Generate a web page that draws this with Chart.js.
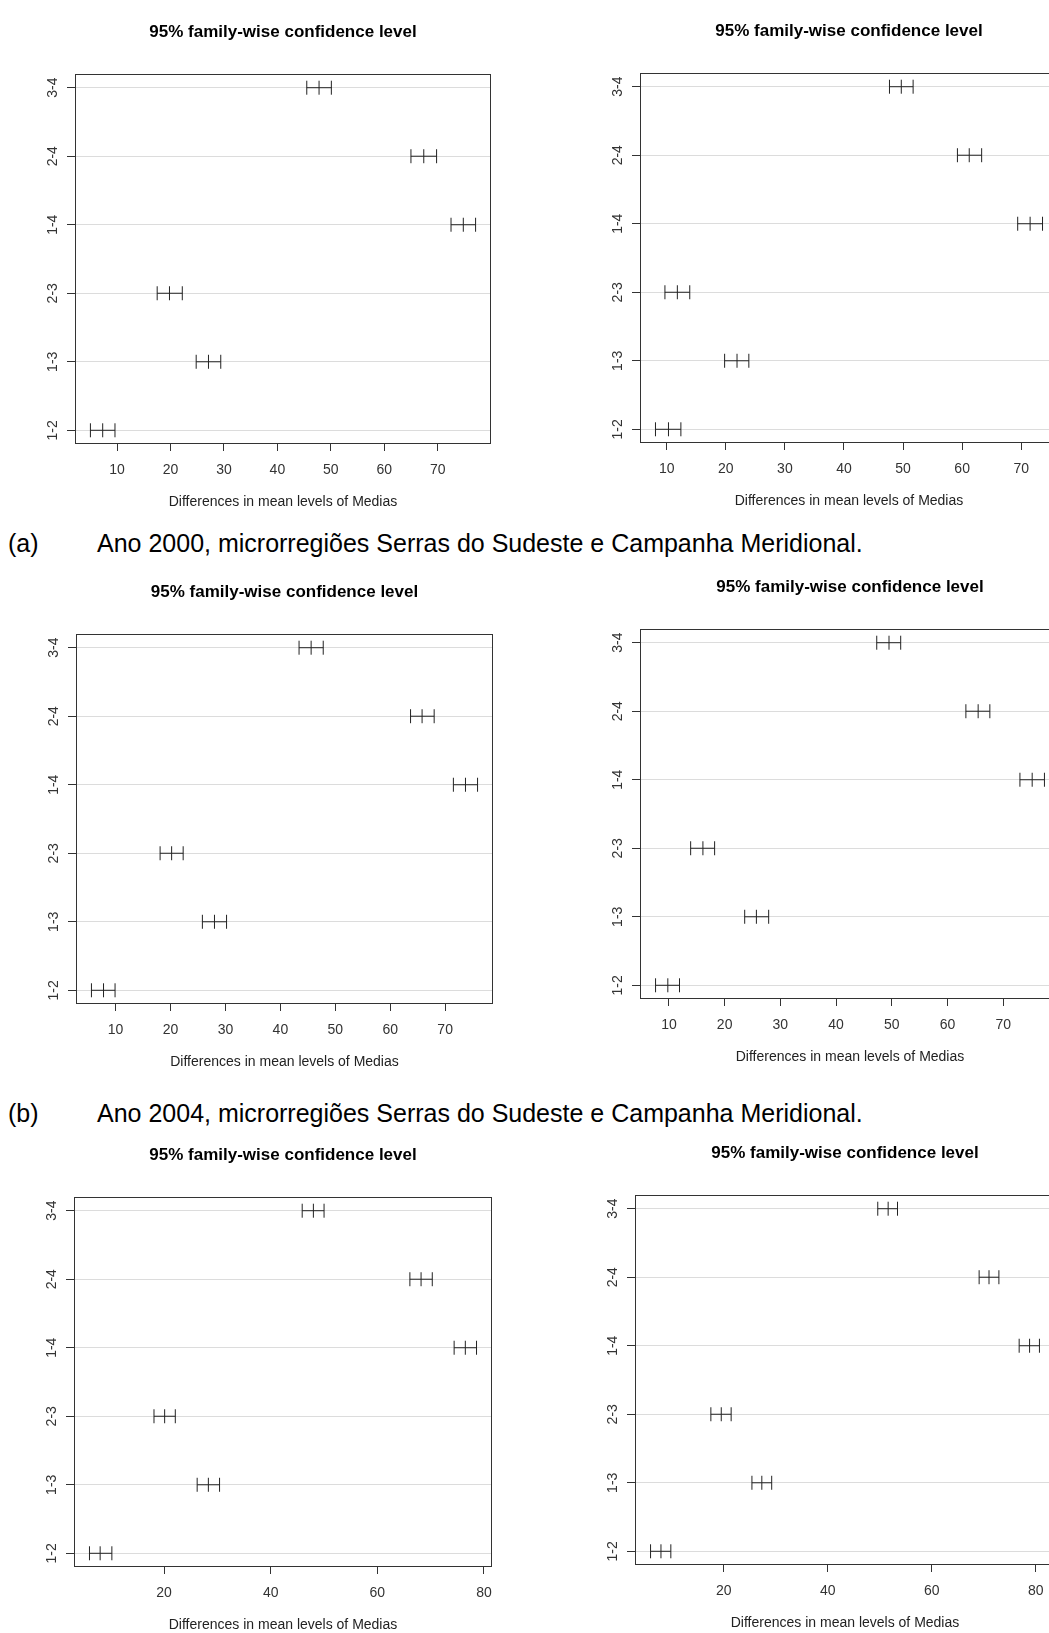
<!DOCTYPE html>
<html>
<head>
<meta charset="utf-8">
<script src="https://cdn.jsdelivr.net/npm/chart.js@4.4.1/dist/chart.umd.min.js"></script>
<style>
  html, body { margin: 0; padding: 0; background: #fff; }
  body { width: 1049px; height: 1633px; overflow: hidden; position: relative; font-family: "Liberation Sans", Arial, sans-serif; }
  canvas { position: absolute; }
  .legenda { position: absolute; font-size: 25px; line-height: 30px; color: #000; white-space: nowrap; }
</style>
</head>
<body>
<div class="legenda" style="left:8px; top:528px">(a)</div>
<div class="legenda" style="left:97px; top:528px">Ano 2000, microrregiões Serras do Sudeste e Campanha Meridional.</div>
<div class="legenda" style="left:8px; top:1098px">(b)</div>
<div class="legenda" style="left:97px; top:1098px">Ano 2004, microrregiões Serras do Sudeste e Campanha Meridional.</div>

<canvas id="ssA"></canvas>
<canvas id="cmA"></canvas>
<canvas id="ssB"></canvas>
<canvas id="cmB"></canvas>
<canvas id="ssC"></canvas>
<canvas id="cmC"></canvas>

<script>
const comparisons = ['1-2', '1-3', '2-3', '1-4', '2-4', '3-4'];
const chartTitle = '95% family-wise confidence level';
const xLabel = 'Differences in mean levels of Medias';

// (a) 2000 - Serras do Sudeste
const lwrSsA  = [5.0, 24.8, 17.5, 72.5, 65.0, 45.5];
const diffSsA = [7.3, 27.1, 19.8, 74.8, 67.4, 47.8];
const uprSsA  = [9.6, 29.4, 22.2, 77.1, 69.8, 50.1];
// (a) 2000 - Campanha Meridional
const lwrCmA  = [8.1, 19.8, 9.7, 69.4, 59.2, 47.7];
const diffCmA = [10.3, 21.9, 11.8, 71.5, 61.2, 49.7];
const uprCmA  = [12.4, 23.9, 13.9, 73.6, 63.3, 51.7];
// (b) 2004 - Serras do Sudeste
const lwrSsB  = [5.6, 25.8, 18.1, 71.5, 63.7, 43.4];
const diffSsB = [7.8, 28.0, 20.2, 73.7, 65.8, 45.6];
const uprSsB  = [9.9, 30.2, 22.3, 75.9, 68.0, 47.8];
// (b) 2004 - Campanha Meridional
const lwrCmB  = [7.6, 23.6, 13.9, 73.0, 63.3, 47.3];
const diffCmB = [9.8, 25.7, 16.1, 75.2, 65.5, 49.5];
const uprCmB  = [11.9, 27.9, 18.2, 77.4, 67.6, 51.6];
// (c) - Serras do Sudeste
const lwrSsC  = [6.0, 26.2, 18.1, 74.4, 66.1, 45.9];
const diffSsC = [8.0, 28.3, 20.1, 76.5, 68.2, 48.0];
const uprSsC  = [10.2, 30.4, 22.1, 78.6, 70.3, 50.0];
// (c) - Campanha Meridional
const lwrCmC  = [5.9, 25.4, 17.5, 76.8, 69.1, 49.6];
const diffCmC = [7.9, 27.3, 19.5, 78.8, 71.0, 51.6];
const uprCmC  = [9.8, 29.2, 21.4, 80.7, 72.9, 53.4];

// step dos ticks do eixo x por painel
const xSteps = [10, 10, 10, 10, 20, 20];

const Y_AXIS_W = 70, X_AXIS_H = 70, TOP_H = 62, BOX_H = 370, RIGHT_PAD = 36;

const paineis = [
  { id: 'ssA', lwr: lwrSsA, diff: diffSsA, upr: uprSsA, left: 75,  top: 74,   w: 416 },
  { id: 'cmA', lwr: lwrCmA, diff: diffCmA, upr: uprCmA, left: 640, top: 73,   w: 418 },
  { id: 'ssB', lwr: lwrSsB, diff: diffSsB, upr: uprSsB, left: 76,  top: 634,  w: 417 },
  { id: 'cmB', lwr: lwrCmB, diff: diffCmB, upr: uprCmB, left: 640, top: 629,  w: 420 },
  { id: 'ssC', lwr: lwrSsC, diff: diffSsC, upr: uprSsC, left: 74,  top: 1197, w: 418 },
  { id: 'cmC', lwr: lwrCmC, diff: diffCmC, upr: uprCmC, left: 635, top: 1195, w: 420 },
];

Chart.defaults.font.family = '"Liberation Sans", Arial, sans-serif';

// caixa em volta da area do grafico, como o box() do R
const caixaPlugin = {
  id: 'caixa',
  afterDatasetsDraw(chart) {
    const { ctx, chartArea: a } = chart;
    ctx.save();
    ctx.strokeStyle = '#333';
    ctx.lineWidth = 1;
    ctx.strokeRect(Math.round(a.left) + 0.5, Math.round(a.top) + 0.5, Math.round(a.width) - 1, Math.round(a.height) - 1);
    ctx.restore();
  },
};

function criarPainel(p, idx) {
  const canvas = document.getElementById(p.id);
  canvas.width = Y_AXIS_W + p.w + RIGHT_PAD;
  canvas.height = TOP_H + BOX_H + X_AXIS_H;
  canvas.style.left = (p.left - Y_AXIS_W) + 'px';
  canvas.style.top = (p.top - TOP_H) + 'px';

  const pontos = [];
  p.diff.forEach((d, i) => {
    pontos.push({ x: p.lwr[i], y: i + 1 }, { x: d, y: i + 1 }, { x: p.upr[i], y: i + 1 }, { x: null, y: null });
  });

  // limites como o R (4% de folga)
  const lo = Math.min(...p.lwr), hi = Math.max(...p.upr);
  const folga = (hi - lo) * 0.04;

  new Chart(canvas, {
    type: 'scatter',
    data: {
      datasets: [{
        data: pontos,
        showLine: true,
        spanGaps: false,
        borderColor: '#222',
        borderWidth: 1,
        pointStyle: 'line',
        pointRotation: 90,
        pointRadius: 7,
        pointHoverRadius: 7,
        pointBorderColor: '#222',
        pointBorderWidth: 1,
      }],
    },
    options: {
      responsive: false,
      animation: false,
      events: [],
      layout: { padding: { left: 0, right: RIGHT_PAD, top: 0, bottom: 0 } },
      plugins: {
        legend: { display: false },
        tooltip: { enabled: false },
        title: {
          display: true,
          text: chartTitle,
          fullSize: false,
          color: '#000',
          font: { size: 17, weight: 'bold' },
          padding: { top: 10.3, bottom: 31.3 },
        },
      },
      scales: {
        x: {
          type: 'linear',
          min: lo - folga,
          max: hi + folga,
          afterFit: (s) => { s.height = X_AXIS_H; },
          ticks: { stepSize: xSteps[idx], includeBounds: false, color: '#333', font: { size: 14 }, padding: 10.6, maxRotation: 0 },
          grid: { drawOnChartArea: false, drawTicks: true, tickLength: 7, tickColor: '#333' },
          border: { display: false },
          title: { display: true, text: xLabel, color: '#222', font: { size: 14 }, padding: { top: 0, bottom: 3.1 } },
        },
        y: {
          type: 'linear',
          min: 0.8,
          max: 6.2,
          afterFit: (s) => { s.width = Y_AXIS_W; },
          ticks: {
            stepSize: 1,
            includeBounds: false,
            color: '#333',
            font: { size: 14 },
            minRotation: 90,
            maxRotation: 90,
            crossAlign: 'center',
            padding: 3.9,
            callback: (v) => comparisons[v - 1],
          },
          grid: { color: '#dcdcdc', lineWidth: 1, tickLength: 8, tickColor: '#333' },
          border: { display: false },
        },
      },
    },
    plugins: [caixaPlugin],
  });
}

paineis.forEach(criarPainel);
</script>
</body>
</html>
